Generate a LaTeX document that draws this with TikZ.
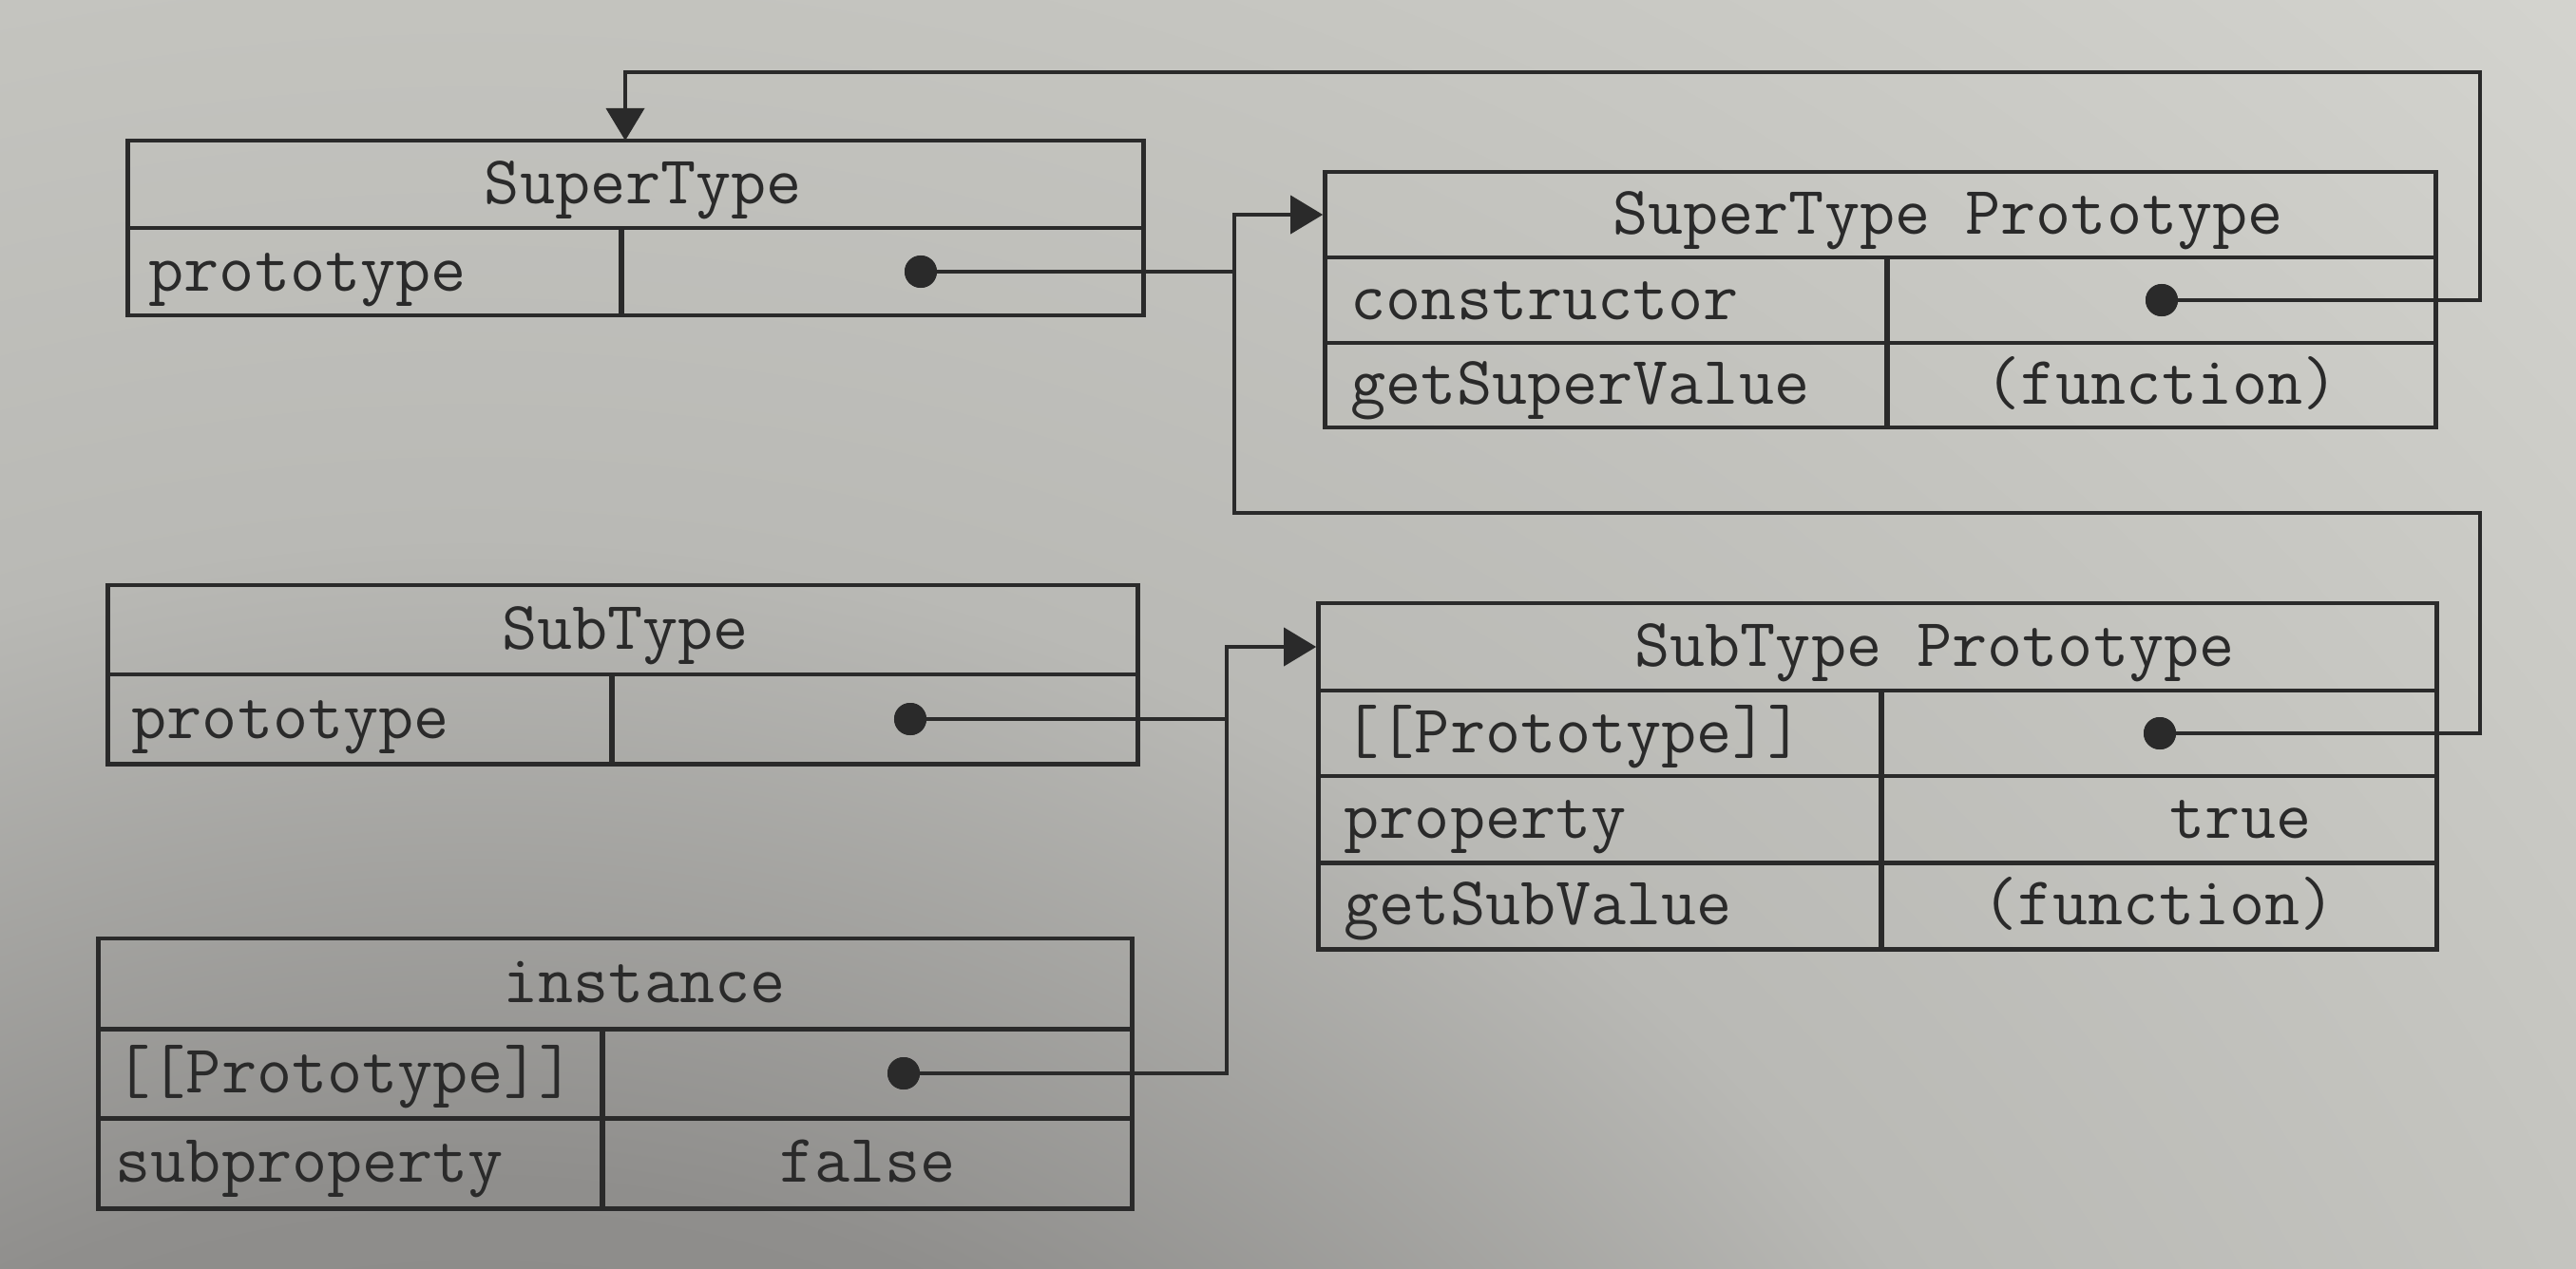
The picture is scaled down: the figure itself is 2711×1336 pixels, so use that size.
\documentclass[tikz,border=0pt]{standalone}
\usetikzlibrary{arrows.meta}
\definecolor{ink}{HTML}{2A2A2A}
\definecolor{bga}{HTML}{7A7977}
\definecolor{bgb}{HTML}{8F8E8C}
\definecolor{bgc}{HTML}{B9B9B5}
\definecolor{bgd}{HTML}{C4C4BF}
\definecolor{bge}{HTML}{D6D6D1}
\pgfdeclareradialshading{bgrad}{\pgfpoint{0bp}{0bp}}{color(0bp)=(bga); color(8.5bp)=(bgb); color(13.5bp)=(bgc); color(18bp)=(bgd); color(25bp)=(bge); color(50bp)=(bge)}
\begin{document}
\begin{tikzpicture}[x=0.01cm,y=-0.01cm,
  cell/.style={draw=ink,line width=1.4pt,inner sep=0pt},
  txt/.style={text=ink,inner sep=0pt,font=\fontsize{20.5pt}{24pt}\selectfont\ttfamily},
  dotn/.style={circle,fill=ink,inner sep=0pt,minimum size=0.34cm},
  conn/.style={draw=ink,line width=1.1pt},
  tip/.style={-{Triangle[length=0.34cm,width=0.40cm]}}]
% background
\begin{scope}
\clip (0,0) rectangle (2711,1336);
\fill[bge] (0,0) rectangle (2711,1336);
\shade[shading=bgrad] (500,2400) circle (3400);
\end{scope}
\useasboundingbox (0,0) rectangle (2711,1336);

% SuperType
\node[cell,minimum width=10.68cm,minimum height=0.92cm] (st-h) at (669,194) {};
\node[cell,minimum width=5.19cm,minimum height=0.92cm] (st-k) at (394.5,286) {};
\node[cell,minimum width=5.49cm,minimum height=0.92cm] (st-v) at (928.5,286) {};
\node[txt,anchor=base] (st-ht) at (677,214) {SuperType};
\node[txt,anchor=base west] (st-kt) at (156,306) {prototype};

% SuperType Prototype
\node[cell,minimum width=11.68cm,minimum height=0.90cm] (stp-h) at (1979,226) {};
\node[cell,minimum width=5.91cm,minimum height=0.90cm] (stp-k1) at (1690.5,316) {};
\node[cell,minimum width=5.77cm,minimum height=0.90cm] (stp-v1) at (2274.5,316) {};
\node[cell,minimum width=5.91cm,minimum height=0.89cm] (stp-k2) at (1690.5,405.5) {};
\node[cell,minimum width=5.77cm,minimum height=0.89cm] (stp-v2) at (2274.5,405.5) {};
\node[txt,anchor=base] (stp-ht) at (2050,246) {SuperType Prototype};
\node[txt,anchor=base west] (stp-k1t) at (1421,336) {constructor};
\node[txt,anchor=base west] (stp-k2t) at (1421,425.5) {getSuperValue};
\node[txt,anchor=base] (stp-v2t) at (2275,425.5) {(function)};

% SubType
\node[cell,minimum width=10.83cm,minimum height=0.94cm] (sb-h) at (655.5,663) {};
\node[cell,minimum width=5.30cm,minimum height=0.94cm] (sb-k) at (379,757) {};
\node[cell,minimum width=5.53cm,minimum height=0.94cm] (sb-v) at (920.5,757) {};
\node[txt,anchor=base] (sb-ht) at (658,683) {SubType};
\node[txt,anchor=base west] (sb-kt) at (138,777) {prototype};

% SubType Prototype
\node[cell,minimum width=11.76cm,minimum height=0.92cm] (sbp-h) at (1976,681) {};
\node[cell,minimum width=5.92cm,minimum height=0.90cm] (sbp-k1) at (1684,772) {};
\node[cell,minimum width=5.84cm,minimum height=0.90cm] (sbp-v1) at (2272,772) {};
\node[cell,minimum width=5.92cm,minimum height=0.91cm] (sbp-k2) at (1684,862.5) {};
\node[cell,minimum width=5.84cm,minimum height=0.91cm] (sbp-v2) at (2272,862.5) {};
\node[cell,minimum width=5.92cm,minimum height=0.91cm] (sbp-k3) at (1684,953.5) {};
\node[cell,minimum width=5.84cm,minimum height=0.91cm] (sbp-v3) at (2272,953.5) {};
\node[txt,anchor=base] (sbp-ht) at (2036,701) {SubType Prototype};
\node[txt,anchor=base west] (sbp-k1t) at (1414,792) {[[Prototype]]};
\node[txt,anchor=base west] (sbp-k2t) at (1414,882.5) {property};
\node[txt,anchor=base west] (sbp-k3t) at (1414,973.5) {getSubValue};
\node[txt,anchor=base] (sbp-v2t) at (2358,882.5) {true};
\node[txt,anchor=base] (sbp-v3t) at (2272,973.5) {(function)};

% instance
\node[cell,minimum width=10.87cm,minimum height=0.95cm] (in-h) at (647.5,1035.5) {};
\node[cell,minimum width=5.30cm,minimum height=0.94cm] (in-k1) at (369,1130) {};
\node[cell,minimum width=5.57cm,minimum height=0.94cm] (in-v1) at (912.5,1130) {};
\node[cell,minimum width=5.30cm,minimum height=0.95cm] (in-k2) at (369,1224.5) {};
\node[cell,minimum width=5.57cm,minimum height=0.95cm] (in-v2) at (912.5,1224.5) {};
\node[txt,anchor=base] (in-ht) at (678,1055.5) {instance};
\node[txt,anchor=base west] (in-k1t) at (121,1150) {[[Prototype]]};
\node[txt,anchor=base west] (in-k2t) at (121,1244.5) {subproperty};
\node[txt,anchor=base] (in-v2t) at (913,1244.5) {false};

% dots
\node[dotn] (st-dot) at (969,286) {};
\node[dotn] (stp-dot) at (2275,316) {};
\node[dotn] (sb-dot) at (958,757) {};
\node[dotn] (sbp-dot) at (2273,772) {};
\node[dotn] (in-dot) at (951,1130) {};

% bend coordinates
\coordinate (c1) at (2610,76);
\coordinate (c2) at (658,148);
\coordinate (c3) at (2610,540);
\coordinate (c4) at (1299,226);
\coordinate (j1) at (1299,286);
\coordinate (c5) at (1291,681);
\coordinate (j2) at (1291,757);

% connectors
\draw[conn,tip] (stp-dot.center) -| (c1) -| (c2);
\draw[conn,tip] (sbp-dot.center) -| (c3) -| (c4) -- (stp-h.west);
\draw[conn] (st-dot.center) -- (j1);
\draw[conn,tip] (in-dot.center) -| (c5) -- (sbp-h.west);
\draw[conn] (sb-dot.center) -- (j2);

% redraw dots on top
\node[dotn] at (st-dot) {};
\node[dotn] at (stp-dot) {};
\node[dotn] at (sb-dot) {};
\node[dotn] at (sbp-dot) {};
\node[dotn] at (in-dot) {};
\end{tikzpicture}
\end{document}
